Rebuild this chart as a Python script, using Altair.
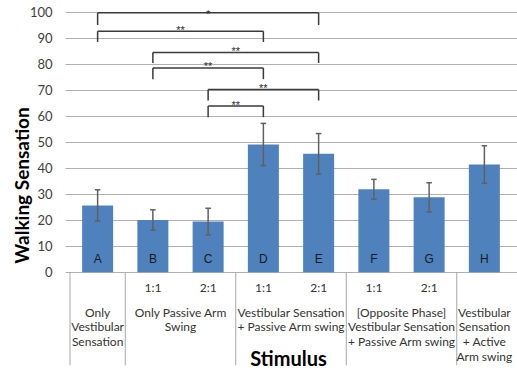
import altair as alt
import pandas as pd

# ---- data ----
letters = ["A", "B", "C", "D", "E", "F", "G", "H"]
means = [25.7, 20.1, 19.5, 49.1, 45.5, 31.9, 28.8, 41.4]
errors = [6.0, 3.9, 5.1, 8.1, 7.8, 3.8, 5.6, 7.2]
ratios = ["", "1:1", "2:1", "1:1", "2:1", "1:1", "2:1", ""]

group_labels = [
    "Only\nVestibular\nSensation",
    "Only Passive Arm\nSwing",
    "Vestibular Sensation\n+ Passive Arm swing",
    "[Opposite Phase]\nVestibular Sensation\n+ Passive Arm swing",
    "Vestibular\nSensation\n+ Active\nArm swing",
]
group_start = [0, 1, 3, 5, 7]
group_end = [1, 3, 5, 7, 8]

br_from = [0, 0, 1, 1, 2, 2]
br_to = [4, 3, 4, 3, 4, 3]
br_level = [99.7, 92.6, 84.4, 78.5, 70.2, 63.9]
br_leg = [95.0, 88.5, 80.4, 74.2, 66.0, 59.6]
br_text = ["*", "**", "**", "**", "**", "**"]
br_text_y = [97.8, 91.6, 83.5, 77.8, 69.4, 62.9]

y_ticks = list(range(0, 101, 10))
Y_MIN, Y_MAX = -36, 100

# ---- tables ----
bars = pd.DataFrame({
    "letter": letters,
    "pos": [i + 0.5 for i in range(len(letters))],
    "mean": means,
    "lo": [m - e for m, e in zip(means, errors)],
    "hi": [m + e for m, e in zip(means, errors)],
    "ratio": ratios,
})
bars["cap_l"] = bars["pos"] - 0.05
bars["cap_r"] = bars["pos"] + 0.05

groups = pd.DataFrame({
    "label": group_labels,
    "center": [(s + e) / 2 for s, e in zip(group_start, group_end)],
})
seps = pd.DataFrame({"x": group_start})

brk = pd.DataFrame({
    "x1": [f + 0.5 for f in br_from],
    "x2": [t + 0.5 for t in br_to],
    "level": br_level,
    "leg": br_leg,
    "text": br_text,
    "ty": br_text_y,
})
brk["xc"] = (brk["x1"] + brk["x2"]) / 2
legs = pd.concat([
    pd.DataFrame({"x": brk["x1"], "top": brk["level"], "bot": brk["leg"]}),
    pd.DataFrame({"x": brk["x2"], "top": brk["level"], "bot": brk["leg"]}),
])

xscale = alt.Scale(domain=[0, 8], nice=False, zero=False)
yscale = alt.Scale(domain=[Y_MIN, Y_MAX], nice=False, zero=False)

FONT = "Lato"

XAX = alt.Axis(
    title="Stimulus", labels=False, ticks=False, domain=False, grid=False,
    titleFont=FONT, titleFontSize=20, titleFontWeight="bold", titleColor="black",
    titleX=223, titleY=-1, titleBaseline="alphabetic", titleAlign="center")
YAX = alt.Axis(
    values=y_ticks, grid=True, gridColor="#b0b0b0", gridWidth=1,
    domain=False, ticks=False, labelPadding=13,
    labelFont=FONT, labelFontSize=13, labelColor="#404040",
    title="Walking Sensation", titleFont=FONT, titleFontSize=19,
    titleFontWeight="bold", titleColor="black", titleAngle=270,
    titleX=-37, titleY=173, titleBaseline="alphabetic", titleAlign="center")


def X(f):
    return alt.X(f, scale=xscale, axis=XAX)


def Y(f):
    return alt.Y(f, scale=yscale, axis=YAX)


bar_layer = alt.Chart(bars).mark_bar(size=31, color="#4F81BD").encode(
    x=X("pos:Q"), y=Y("mean:Q"), y2=alt.datum(0),
)

err_v = alt.Chart(bars).mark_rule(color="#606060", strokeWidth=1.5).encode(
    x=X("pos:Q"), y=Y("lo:Q"), y2="hi:Q",
)
cap_hi = alt.Chart(bars).mark_rule(color="#606060", strokeWidth=1.5).encode(
    x=X("cap_l:Q"), x2="cap_r:Q", y=Y("hi:Q"),
)
cap_lo = alt.Chart(bars).mark_rule(color="#606060", strokeWidth=1.5).encode(
    x=X("cap_l:Q"), x2="cap_r:Q", y=Y("lo:Q"),
)

letter_text = alt.Chart(bars).mark_text(
    font="Liberation Sans", fontSize=12, color="#1a1a1a", baseline="alphabetic"
).encode(
    x=X("pos:Q"), y=Y("y:Q"), text="letter:N",
).transform_calculate(y="3.7")

ratio_text = alt.Chart(bars).mark_text(
    font=FONT, fontSize=12, color="#333333", baseline="alphabetic"
).encode(
    x=X("pos:Q"), y=Y("y:Q"), text="ratio:N",
).transform_calculate(y="-7.4")

group_text = alt.Chart(groups).mark_text(
    font=FONT, fontSize=12, color="#333333", baseline="alphabetic",
    lineBreak="\n", lineHeight=14.7
).encode(
    x=X("center:Q"), y=Y("y:Q"), text="label:N",
).transform_calculate(y="-17.0")

sep_layer = alt.Chart(seps).mark_rule(color="#a6a6a6", strokeWidth=1).encode(
    x=X("x:Q"), y=Y("top:Q"), y2="bot:Q",
).transform_calculate(top="0", bot=str(Y_MIN + 0.3))

br_h = alt.Chart(brk).mark_rule(color="#3a3a3a", strokeWidth=1.5).encode(
    x=X("x1:Q"), x2="x2:Q", y=Y("level:Q"),
)
br_legs = alt.Chart(legs).mark_rule(color="#3a3a3a", strokeWidth=1.5).encode(
    x=X("x:Q"), y=Y("top:Q"), y2="bot:Q",
)
br_txt = alt.Chart(brk).mark_text(
    font="Liberation Sans", fontSize=11, color="#2a2a2a", baseline="alphabetic"
).encode(
    x=X("xc:Q"), y=Y("ty:Q"), text="text:N",
)

chart = alt.layer(
    bar_layer, sep_layer, err_v, cap_hi, cap_lo, letter_text, ratio_text,
    group_text, br_h, br_legs, br_txt
).properties(
    width=452, height=354,
    autosize=alt.AutoSizeParams(type="none"),
    padding={"left": 65, "top": 12, "right": 0, "bottom": 3},
    background="white",
).configure_view(stroke=None)

chart.save("out.html", embed_options={"renderer": "svg", "actions": False})
